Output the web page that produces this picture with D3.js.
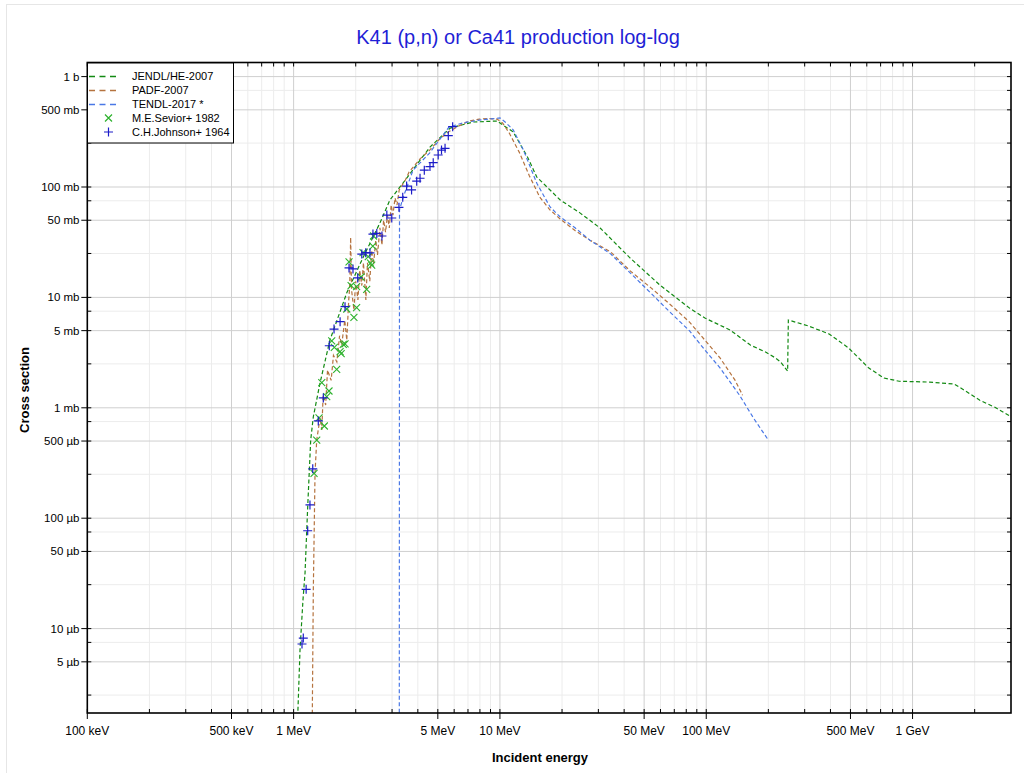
<!DOCTYPE html>
<html><head><meta charset="utf-8">
<script src="https://cdn.jsdelivr.net/npm/d3@7"></script>
<style>body{margin:0;background:#fff;} svg{display:block;font-family:"Liberation Sans",Arial,sans-serif;}</style>
</head><body><svg id="c" width="1024" height="773"></svg>
<script>
// ---- data (energy in MeV, cross section in mb) ----
const jendlE = [1.033, 1.048, 1.074, 1.11, 1.136, 1.17, 1.21, 1.246, 1.343, 1.5, 1.81, 2.18, 2.62, 2.93, 3.39, 4.58, 5.74, 7.42, 9.68, 11.6, 13.6, 15.1, 19.6, 24.5, 30.6, 42.8, 59.7, 83, 98.5, 130.5, 163.6, 193.8, 216.3, 229.5, 248, 250, 314, 394, 490, 614, 727, 861, 1210, 1595, 1786, 2119, 2508, 3000];
const jendlXS = [0.0008, 0.0017, 0.0064, 0.0181, 0.0319, 0.126, 0.51, 0.83, 1.68, 4.11, 11.0, 23.4, 47.2, 76.3, 108.7, 230, 342, 388, 396, 315, 187, 123, 76.3, 58, 42.5, 22.7, 12.9, 8.0, 6.5, 5.07, 3.7, 3.2, 2.83, 2.6, 2.15, 6.24, 5.5, 4.66, 3.48, 2.29, 1.86, 1.74, 1.71, 1.64, 1.44, 1.17, 1.01, 0.83];

const padfE = [1.231, 1.232, 1.246, 1.27, 1.294, 1.343, 1.37, 1.39, 1.43, 1.46, 1.52, 1.56, 1.62, 1.67, 1.71, 1.77, 1.81, 1.85, 1.87, 1.89, 1.91, 1.96, 2.0, 2.05, 2.09, 2.14, 2.18, 2.24, 2.28, 2.34, 2.39, 2.44, 2.50, 2.55, 2.62, 2.68, 2.73, 2.79, 2.85, 2.91, 2.97, 3.03, 3.10, 3.17, 3.25, 3.48, 3.63, 4.1, 4.56, 5.1, 5.66, 6.38, 7.08, 7.95, 8.9, 9.68, 10.3, 11.1, 12.4, 13.9, 15.6, 17.5, 19.6, 23.2, 27.3, 34.4, 42.9, 54, 67.5, 83, 98.5, 116.6, 137.6, 150];
const padfXS = [0.0005, 0.0017, 0.0224, 0.257, 0.51, 0.81, 0.63, 1.3, 1.06, 2.2, 1.77, 2.98, 2.6, 4.5, 3.7, 6.2, 4.1, 9.5, 12.5, 35, 11.6, 7.7, 14.0, 9.5, 17.7, 12.8, 20.6, 9.5, 20.6, 14, 26.7, 19.9, 33, 24.2, 42.6, 29.8, 50, 39, 55.7, 42.6, 68.7, 55.7, 79.5, 68.7, 94, 115.7, 137, 180, 215, 272, 318, 360, 396, 412, 417, 412, 380, 308, 207, 126, 81, 61.9, 51.3, 40.1, 33, 25.8, 17.3, 12.2, 8.5, 5.97, 4.1, 2.83, 1.79, 1.3];

const tendlE = [3.249, 3.26, 3.4, 3.79, 4.56, 5.66, 6.6, 7.95, 10.0, 10.6, 11.6, 13.0, 15.1, 17.5, 19.6, 23.2, 27.3, 34.4, 42.9, 54, 67.5, 83, 98.5, 116.6, 145, 170, 200];
const tendlXS = [0.00001, 62, 81, 142, 203, 349, 380, 404, 422, 388, 329, 216, 108, 65.9, 53.5, 42.5, 33, 24.8, 16.6, 10.9, 7.2, 4.97, 3.34, 2.3, 1.3, 0.8, 0.51];

const seviorE = [1.256, 1.294, 1.328, 1.369, 1.409, 1.447, 1.484, 1.53, 1.575, 1.617, 1.68, 1.70, 1.74, 1.775, 1.81, 1.856, 1.90, 1.96, 2.02, 2.02, 2.12, 2.17, 2.26, 2.30, 2.36, 2.39, 2.42, 2.44];
const seviorXS = [0.255, 0.51, 0.81, 1.69, 0.684, 1.26, 1.42, 4.03, 3.53, 2.23, 3.22, 3.1, 3.76, 3.8, 7.85, 21, 12.8, 6.6, 8.07, 12.5, 15.3, 25.4, 11.8, 23.4, 20.4, 19.6, 29.2, 36];

const johnsonE = [1.098, 1.114, 1.15, 1.17, 1.20, 1.238, 1.317, 1.393, 1.489, 1.57, 1.68, 1.775, 1.856, 1.94, 2.045, 2.14, 2.237, 2.345, 2.424, 2.53, 2.68, 2.83, 2.99, 3.24, 3.38, 3.53, 3.73, 3.95, 4.1, 4.3, 4.58, 4.75, 5.02, 5.21, 5.42, 5.62, 5.9];
const johnsonXS = [0.00725, 0.0082, 0.0227, 0.077, 0.132, 0.28, 0.76, 1.23, 3.65, 5.17, 6.03, 8.24, 18.5, 18.1, 15, 24.7, 25.4, 25.3, 37.5, 38, 36, 55.7, 52.4, 65.5, 80.7, 102, 94, 113, 120, 142, 153, 166, 195, 216, 224, 292, 352];

const xTickValues = [0.1, 0.5, 1, 5, 10, 50, 100, 500, 1000];
const xTickLabels = ["100 keV", "500 keV", "1 MeV", "5 MeV", "10 MeV", "50 MeV", "100 MeV", "500 MeV", "1 GeV"];
const yTickValues = [1000, 500, 100, 50, 10, 5, 1, 0.5, 0.1, 0.05, 0.01, 0.005];
const yTickLabels = ["1 b", "500 mb", "100 mb", "50 mb", "10 mb", "5 mb", "1 mb", "500 µb", "100 µb", "50 µb", "10 µb", "5 µb"];

const seriesNames = ["JENDL/HE-2007", "PADF-2007", "TENDL-2017 *", "M.E.Sevior+ 1982", "C.H.Johnson+ 1964"];
const seriesColors = ["#138a13", "#b5733f", "#4a78e6", "#2db22d", "#1c1cc8"];

// ---- chart ----
const L = 87.3, R = 1011, T = 62.5, B = 713;
const x = d3.scaleLog().domain([0.1, 3000]).range([L, R]);
const y = d3.scaleLog().domain([0.00172, 1342]).range([B, T]);
const svg = d3.select('#c');

svg.append('rect').attr('x', 6.5).attr('y', 4.5).attr('width', 1040).attr('height', 800)
  .attr('fill', 'none').attr('stroke', '#e6e6e6');

// grid
const xGrid = [];
[0.1, 1, 10, 100, 1000].forEach(d => { for (let m = 1; m <= 9; m++) { const v = m * d; if (v > 0.1 && v < 3000) xGrid.push({v, major: m === 1 || m === 5}); } });
const yGrid = [];
[0.001, 0.01, 0.1, 1, 10, 100, 1000].forEach(d => { [[1, true], [2.5, false], [5, true], [7.5, false]].forEach(([m, mj]) => { const v = m * d; if (v > 0.00172 && v < 1342) yGrid.push({v, major: mj}); }); });

const g = svg.append('g');
g.selectAll('.vg').data(xGrid.filter(d => !d.major)).enter().append('line')
  .attr('x1', d => x(d.v)).attr('x2', d => x(d.v)).attr('y1', T).attr('y2', B).attr('stroke', '#ececec');
g.selectAll('.hg').data(yGrid.filter(d => !d.major)).enter().append('line')
  .attr('y1', d => y(d.v)).attr('y2', d => y(d.v)).attr('x1', L).attr('x2', R).attr('stroke', '#ececec');
g.selectAll('.vgm').data(xGrid.filter(d => d.major)).enter().append('line')
  .attr('x1', d => x(d.v)).attr('x2', d => x(d.v)).attr('y1', T).attr('y2', B).attr('stroke', '#cfcfcf');
g.selectAll('.hgm').data(yGrid.filter(d => d.major)).enter().append('line')
  .attr('y1', d => y(d.v)).attr('y2', d => y(d.v)).attr('x1', L).attr('x2', R).attr('stroke', '#cfcfcf');

// clip
svg.append('clipPath').attr('id', 'clip').append('rect').attr('x', L).attr('y', T).attr('width', R - L).attr('height', B - T);
const plot = svg.append('g').attr('clip-path', 'url(#clip)');

const line = d3.line().x(d => x(d[0])).y(d => y(d[1]));
const curves = [[jendlE, jendlXS], [padfE, padfXS], [tendlE, tendlXS]];
curves.forEach(([es, vs], i) => {
  plot.append('path').datum(es.map((e, k) => [e, vs[k]])).attr('d', line)
    .attr('fill', 'none').attr('stroke', seriesColors[i]).attr('stroke-width', 1.2)
    .attr('stroke-dasharray', '4,2.5');
});

const crossPath = 'M-3.5,-3.5L3.5,3.5M-3.5,3.5L3.5,-3.5';
const plusPath = 'M-4.5,0H4.5M0,-4.5V4.5';
plot.selectAll('.sev').data(seviorE.map((e, k) => [e, seviorXS[k]])).enter().append('path')
  .attr('d', crossPath).attr('transform', d => `translate(${x(d[0])},${y(d[1])})`)
  .attr('stroke', seriesColors[3]).attr('stroke-width', 1.1).attr('fill', 'none');
plot.selectAll('.joh').data(johnsonE.map((e, k) => [e, johnsonXS[k]])).enter().append('path')
  .attr('d', plusPath).attr('transform', d => `translate(${x(d[0])},${y(d[1])})`)
  .attr('stroke', seriesColors[4]).attr('stroke-width', 1.2).attr('fill', 'none');

// frame and ticks
const ax = svg.append('g').attr('stroke', '#000');
const xMinor = xGrid.filter(d => !d.major).map(d => d.v);
const yMinor = yGrid.filter(d => !d.major).map(d => d.v);
xMinor.forEach(v => {
  ax.append('line').attr('x1', x(v)).attr('x2', x(v)).attr('y1', B).attr('y2', B - 4).attr('stroke-width', 1);
  ax.append('line').attr('x1', x(v)).attr('x2', x(v)).attr('y1', T).attr('y2', T + 4).attr('stroke-width', 1);
});
xTickValues.forEach(v => {
  ax.append('line').attr('x1', x(v)).attr('x2', x(v)).attr('y1', B - 4).attr('y2', B + 6).attr('stroke-width', 1);
  ax.append('line').attr('x1', x(v)).attr('x2', x(v)).attr('y1', T).attr('y2', T + 4).attr('stroke-width', 1);
});
yMinor.forEach(v => {
  ax.append('line').attr('y1', y(v)).attr('y2', y(v)).attr('x1', L).attr('x2', L + 4).attr('stroke-width', 1);
  ax.append('line').attr('y1', y(v)).attr('y2', y(v)).attr('x1', R).attr('x2', R - 4).attr('stroke-width', 1);
});
yTickValues.forEach(v => {
  ax.append('line').attr('y1', y(v)).attr('y2', y(v)).attr('x1', L - 6).attr('x2', L + 4).attr('stroke-width', 1);
  ax.append('line').attr('y1', y(v)).attr('y2', y(v)).attr('x1', R).attr('x2', R - 4).attr('stroke-width', 1);
});
ax.append('rect').attr('x', L).attr('y', T).attr('width', R - L).attr('height', B - T)
  .attr('fill', 'none').attr('stroke-width', 1.6);

// tick labels
svg.selectAll('.xl').data(xTickValues).enter().append('text')
  .attr('x', d => x(d)).attr('y', 735).attr('text-anchor', 'middle')
  .attr('font-size', 12).attr('fill', '#000').text((d, i) => xTickLabels[i]);
svg.selectAll('.yl').data(yTickValues).enter().append('text')
  .attr('x', 79.5).attr('y', d => y(d)).attr('dy', '0.35em').attr('text-anchor', 'end')
  .attr('font-size', 11.5).attr('fill', '#000').text((d, i) => yTickLabels[i]);

// titles
svg.append('text').attr('x', 518).attr('y', 44).attr('text-anchor', 'middle')
  .attr('font-size', 20).attr('fill', '#1f1fd6').text('K41 (p,n) or Ca41 production log-log');
svg.append('text').attr('x', 540).attr('y', 762).attr('text-anchor', 'middle')
  .attr('font-size', 13).attr('font-weight', 'bold').attr('fill', '#000').text('Incident energy');
svg.append('text').attr('transform', 'translate(29,390) rotate(-90)').attr('text-anchor', 'middle')
  .attr('font-size', 13).attr('font-weight', 'bold').attr('fill', '#000').text('Cross section');

// legend
const lg = svg.append('g');
lg.append('rect').attr('x', 87.5).attr('y', 63).attr('width', 146).attr('height', 80)
  .attr('fill', '#fff').attr('stroke', '#000').attr('stroke-width', 1);
const ly = [76.5, 90.5, 104.5, 118, 132];
seriesNames.forEach((name, i) => {
  if (i < 3) {
    lg.append('line').attr('x1', 89).attr('x2', 118).attr('y1', ly[i]).attr('y2', ly[i])
      .attr('stroke', seriesColors[i]).attr('stroke-width', 1.6).attr('stroke-dasharray', '6,4.5');
  } else {
    lg.append('path').attr('d', i === 3 ? crossPath : plusPath)
      .attr('transform', `translate(108.5,${ly[i]})`).attr('stroke', seriesColors[i])
      .attr('stroke-width', 1.2).attr('fill', 'none');
  }
  lg.append('text').attr('x', 132).attr('y', ly[i]).attr('dy', '0.35em')
    .attr('font-size', 11).attr('fill', '#000').text(name);
});
</script></body></html>
